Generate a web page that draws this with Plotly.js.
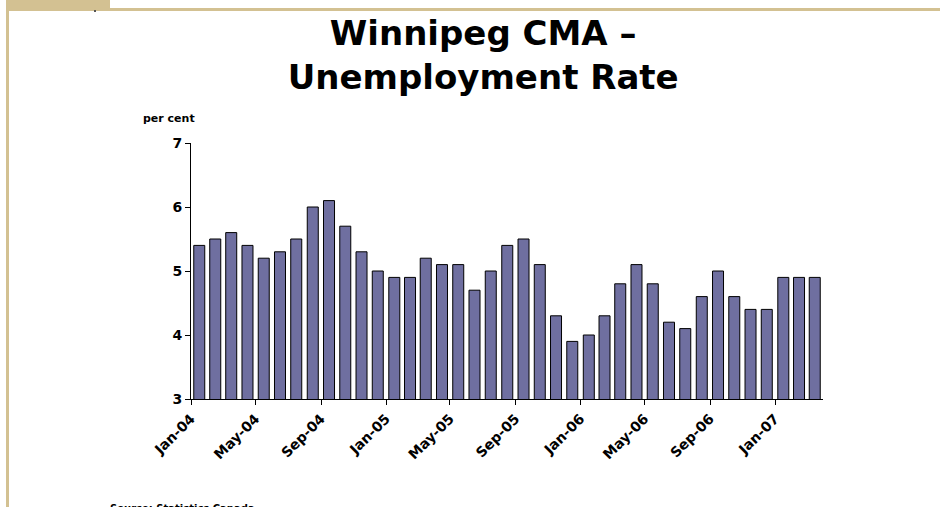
<!DOCTYPE html>
<html>
<head>
<meta charset="utf-8">
<script src="https://cdn.plot.ly/plotly-3.0.1.min.js"></script>
<style>
  html, body { margin: 0; padding: 0; background: #ffffff; }
  #wrap { position: relative; width: 940px; height: 507px; overflow: hidden; }
  #chart { position: absolute; left: 0; top: 0; width: 940px; height: 507px; }
  .deco { position: absolute; background: #d3c192; }
</style>
</head>
<body>
<div id="wrap">
  <div class="deco" style="left:7px; top:0px; width:103px; height:11px;"></div>
  <div class="deco" style="left:110px; top:8px; width:830px; height:3px;"></div>
  <div class="deco" style="left:6px; top:0px; width:3px; height:507px;"></div>
  <div style="position:absolute; left:94px; top:10px; width:2px; height:2px; background:#555;"></div>
  <div id="chart"></div>
</div>
<script>
const months = [
  "2004-01","2004-02","2004-03","2004-04","2004-05","2004-06","2004-07","2004-08","2004-09","2004-10","2004-11","2004-12",
  "2005-01","2005-02","2005-03","2005-04","2005-05","2005-06","2005-07","2005-08","2005-09","2005-10","2005-11","2005-12",
  "2006-01","2006-02","2006-03","2006-04","2006-05","2006-06","2006-07","2006-08","2006-09","2006-10","2006-11","2006-12",
  "2007-01","2007-02","2007-03"
];
const unemploymentRate = [
  5.4, 5.5, 5.6, 5.4, 5.2, 5.3, 5.5, 6.0, 6.1, 5.7, 5.3, 5.0,
  4.9, 4.9, 5.2, 5.1, 5.1, 4.7, 5.0, 5.4, 5.5, 5.1, 4.3, 3.9,
  4.0, 4.3, 4.8, 5.1, 4.8, 4.2, 4.1, 4.6, 5.0, 4.6, 4.4, 4.4,
  4.9, 4.9, 4.9
];
const tickDates = ["2004-01-01","2004-05-01","2004-09-01","2005-01-01","2005-05-01","2005-09-01","2006-01-01","2006-05-01","2006-09-01","2007-01-01"];
const tickLabels = ["Jan-04","May-04","Sep-04","Jan-05","May-05","Sep-05","Jan-06","May-06","Sep-06","Jan-07"];
const yTicks = [3, 4, 5, 6, 7];

const FONT = "'DejaVu Sans', sans-serif";

const trace = {
  type: "bar",
  x: months,
  y: unemploymentRate,
  xperiod: "M1",
  xperiodalignment: "middle",
  marker: { color: "#6f6fa0", line: { color: "#000000", width: 1 } },
  hoverinfo: "x+y"
};

const layout = {
  width: 940, height: 507,
  margin: { l: 191, r: 117, t: 143, b: 108 },
  paper_bgcolor: "rgba(0,0,0,0)",
  plot_bgcolor: "rgba(0,0,0,0)",
  showlegend: false,
  bargap: 0.3,
  font: { family: FONT, color: "#000000" },
  title: {
    text: "Winnipeg CMA –<br>Unemployment Rate",
    font: { family: FONT, size: 34, weight: "bold", color: "#000000" },
    x: 0.514, xanchor: "center",
    xref: "container", yref: "container",
    y: 0.912, yanchor: "top"
  },
  xaxis: {
    type: "date",
    range: ["2004-01-01", "2007-04-01"],
    tickmode: "array",
    tickvals: tickDates,
    ticktext: tickLabels,
    tickangle: -45,
    tickfont: { family: FONT, size: 14, weight: "bold", color: "#000000" },
    ticks: "outside", ticklen: 5, tickcolor: "#000000", tickwidth: 1,
    showline: true, linecolor: "#000000", linewidth: 1,
    showgrid: false, zeroline: false
  },
  yaxis: {
    range: [3, 7],
    tickmode: "array",
    tickvals: yTicks,
    ticktext: yTicks.map(String),
    tickfont: { family: FONT, size: 14, weight: "bold", color: "#000000" },
    ticks: "outside", ticklen: 5, tickcolor: "#000000", tickwidth: 1,
    showline: true, linecolor: "#000000", linewidth: 1,
    showgrid: false, zeroline: false
  },
  annotations: [
    {
      text: "per cent", xref: "paper", yref: "paper",
      x: -0.035, y: 1.094, xanchor: "center", yanchor: "middle",
      showarrow: false,
      font: { family: FONT, size: 11, weight: "bold", color: "#000000" }
    },
    {
      text: "Source: Statistics Canada", xref: "paper", yref: "paper",
      x: -0.131, y: -0.40, xanchor: "left", yanchor: "top",
      showarrow: false,
      font: { family: FONT, size: 10, weight: "bold", color: "#000000" }
    }
  ]
};

Plotly.newPlot("chart", [trace], layout, { displayModeBar: false });
</script>
</body>
</html>
